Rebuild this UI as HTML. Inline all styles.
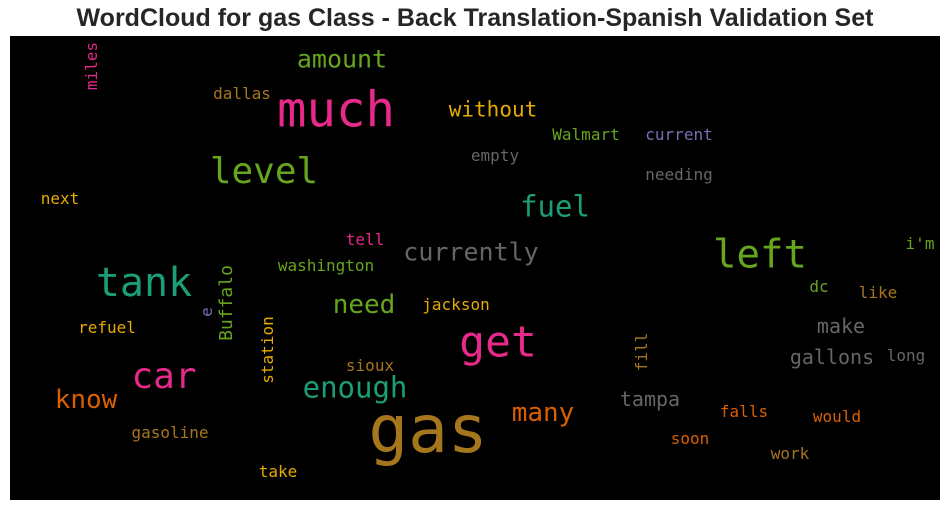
<!DOCTYPE html>
<html><head><meta charset="utf-8"><style>
body{margin:0;width:950px;height:511px;background:#fff;overflow:hidden;position:relative;font-family:"Liberation Sans",sans-serif}
#title{position:absolute;left:0;width:950px;top:4px;text-align:center;font-weight:bold;font-size:25px;color:#262626}
#cloud{position:absolute;left:10px;top:36px;width:930px;height:464px;background:#000}
.w{position:absolute;font-family:"DejaVu Sans Mono",monospace;line-height:1;white-space:nowrap;transform:translate(-50%,-50%)}
.v{transform:translate(-50%,-50%) rotate(-90deg)}
</style></head><body>
<div id="title">WordCloud for gas Class - Back Translation-Spanish Validation Set</div>
<div id="cloud"></div>
<script>
const words=["gas","much","level","tank","left","get","car","amount","fuel","currently","enough","need","know","many","without","tampa","make","gallons","Walmart","current","empty","needing","dallas","next","tell","washington","jackson","i'm","dc","like","long","refuel","sioux","gasoline","falls","would","soon","work","take","miles","Buffalo","station","e","fill"];
const sizes=[66,49,36,40,39,43,36,25,29,25,29,26,26,26,21,20,20,20,16,16,16,16,16,16,16,16,16,16,16,16,16,16,16,16,16,16,16,16,16,16,18,16,16,16];
const cx=[428,336,264,144,760,498,164,342,555,471,355,364,86,543,493,650,841,832,586,679,495,679,242,60,365,326,456,920,819,878,906,107,370,170,744,837,690,790,278,92,227,268,207,642];
const cy=[430,110,172,283,255,343,377,59,207,252,388,305,400,413,110,399,326,357,135,135,156,175,94,199,240,266,305,244,287,293,356,328,366,433,412,417,439,454,472,66,303,350,312,352];
const colors=["#a6761d","#e7298a","#66a61e","#1b9e77","#66a61e","#e7298a","#e7298a","#66a61e","#1b9e77","#666666","#1b9e77","#66a61e","#d95f02","#d95f02","#e6ab02","#666666","#666666","#666666","#66a61e","#7570b3","#666666","#666666","#a6761d","#e6ab02","#e7298a","#66a61e","#e6ab02","#66a61e","#66a61e","#a6761d","#666666","#e6ab02","#a6761d","#a6761d","#d95f02","#d95f02","#d95f02","#a6761d","#e6ab02","#e7298a","#66a61e","#e6ab02","#7570b3","#a6761d"];
const vertical=["miles","Buffalo","station","e","fill"];
const cloud=document.getElementById('cloud');
words.forEach((t,i)=>{
  const d=document.createElement('div');
  d.className='w'+(vertical.includes(t)?' v':'');
  d.textContent=t;
  d.style.left=(cx[i]-10)+'px';
  d.style.top=(cy[i]-36)+'px';
  d.style.fontSize=sizes[i]+'px';
  d.style.color=colors[i];
  
  
  cloud.appendChild(d);
});
</script>
</body></html>
